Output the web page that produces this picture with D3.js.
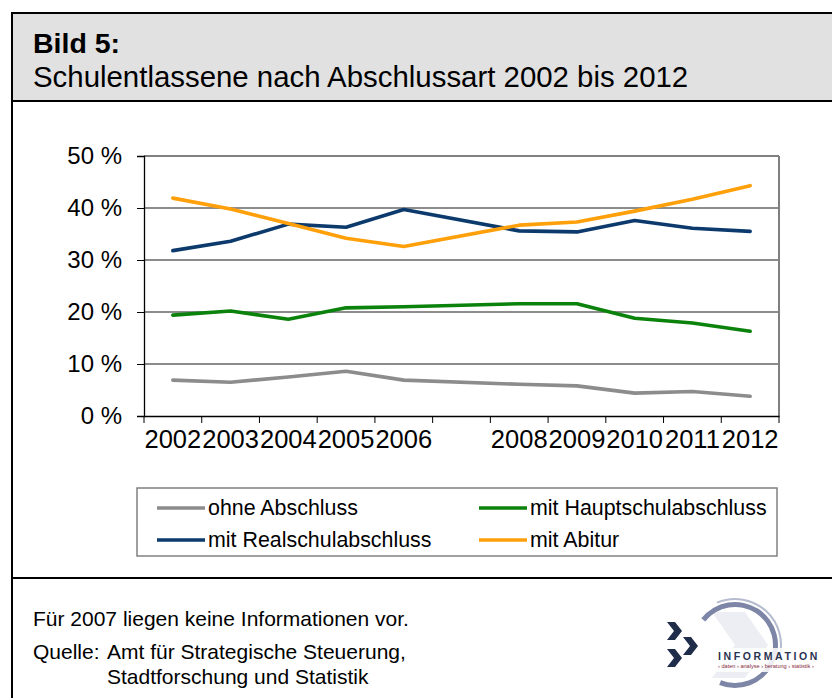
<!DOCTYPE html>
<html><head><meta charset="utf-8">
<script src="https://cdn.jsdelivr.net/npm/d3@7"></script>
<style>body{margin:0;background:#fff}svg{display:block;font-family:"Liberation Sans",Arial,sans-serif}</style>
</head><body>
<svg id="c" width="832" height="698"></svg>
<script>
const years = ["2002","2003","2004","2005","2006","2007","2008","2009","2010","2011","2012"];
const tickLabels = ["2002","2003","2004","2005","2006","","2008","2009","2010","2011","2012"];
const yTicks = [0,10,20,30,40,50];
const seriesNames = ["ohne Abschluss","mit Hauptschulabschluss","mit Realschulabschluss","mit Abitur"];
const seriesColors = ["#8c8c8c","#0b820b","#0c3a6c","#ffa00a"];
const ohneAbschluss = [6.9,6.5,7.5,8.6,6.9,null,6.1,5.8,4.4,4.7,3.8];
const hauptschul = [19.4,20.2,18.6,20.8,21.0,null,21.6,21.6,18.8,17.9,16.3];
const realschul = [31.8,33.6,36.9,36.3,39.7,null,35.6,35.4,37.6,36.1,35.5];
const abitur = [41.9,39.8,37.0,34.2,32.6,null,36.7,37.3,39.4,41.7,44.3];
const seriesValues = [ohneAbschluss,hauptschul,realschul,abitur];

const svg = d3.select("#c");

// frame
svg.append("rect").attr("x",12).attr("y",13).attr("width",830).attr("height",88).attr("fill","#e1e1e1");
svg.append("rect").attr("x",12).attr("y",13).attr("width",830).attr("height",700).attr("fill","none").attr("stroke","#000").attr("stroke-width",2);
svg.append("line").attr("x1",12).attr("x2",832).attr("y1",101).attr("y2",101).attr("stroke","#000").attr("stroke-width",2);
svg.append("line").attr("x1",12).attr("x2",832).attr("y1",578).attr("y2",578).attr("stroke","#000").attr("stroke-width",2);

svg.append("text").attr("x",33).attr("y",53).attr("font-size",28.5).attr("font-weight","bold").text("Bild 5:");
svg.append("text").attr("x",33).attr("y",87).attr("font-size",29.4).text("Schulentlassene nach Abschlussart 2002 bis 2012");

// chart
const L=144, R=779, T=156, B=416;
const x = d3.scaleBand().domain(years).range([L,R]).padding(0);
const y = d3.scaleLinear().domain([0,50]).range([B,T]);

const g = svg.append("g");
// gridlines
g.selectAll(".grid").data(yTicks.filter(d=>d>0 && d<50)).join("line")
  .attr("x1",L).attr("x2",R).attr("y1",d=>y(d)).attr("y2",d=>y(d)).attr("stroke","#1a1a1a").attr("stroke-width",1);
// plot border top/right
g.append("line").attr("x1",L).attr("x2",R).attr("y1",y(50)).attr("y2",y(50)).attr("stroke","#808080").attr("stroke-width",2);
g.append("line").attr("x1",R).attr("x2",R).attr("y1",y(50)).attr("y2",B).attr("stroke","#808080").attr("stroke-width",2);

// y axis
const yAxis = d3.axisLeft(y).tickValues(yTicks).tickSize(7).tickPadding(15).tickFormat(d=>d+" %");
const ya = g.append("g").attr("transform",`translate(${L},0)`).call(yAxis);
ya.select(".domain").attr("stroke","#000").attr("stroke-width",1.3);
ya.selectAll("text").attr("font-size",24).attr("font-family","Liberation Sans, Arial, sans-serif").attr("fill","#000");

// x axis
const xa = g.append("g").attr("transform",`translate(0,${B})`)
  .call(d3.axisBottom(x).tickSize(0).tickPadding(14).tickFormat((d,i)=>tickLabels[i]));
xa.select(".domain").attr("stroke","#000").attr("stroke-width",1.3);
xa.selectAll("text").attr("font-size",25.5).attr("font-family","Liberation Sans, Arial, sans-serif").attr("fill","#000");
const bounds = years.map(d=>x(d)).concat([R]);
xa.selectAll(".bt").data(bounds).join("line").attr("x1",d=>d).attr("x2",d=>d).attr("y1",0).attr("y2",7).attr("stroke","#000");

// lines
const line = d3.line().defined(d=>d.v!=null).x(d=>x(d.year)+x.bandwidth()/2).y(d=>y(d.v));
seriesValues.forEach((vals,i)=>{
  const pts = years.map((yr,j)=>({year:yr,v:vals[j]})).filter(d=>d.v!=null);
  g.append("path").datum(pts).attr("d",line).attr("fill","none")
    .attr("stroke",seriesColors[i]).attr("stroke-width",3.6).attr("stroke-linejoin","round").attr("stroke-linecap","round");
});

// legend
svg.append("rect").attr("x",137).attr("y",488).attr("width",640).attr("height",68).attr("fill","#fff").attr("stroke","#808080").attr("stroke-width",1.5);
const legPos = [[157,508],[479,508],[157,540],[479,540]];
seriesNames.forEach((n,i)=>{
  const [lx,ly]=legPos[i];
  svg.append("line").attr("x1",lx).attr("x2",lx+48).attr("y1",ly).attr("y2",ly).attr("stroke",seriesColors[i]).attr("stroke-width",3.6);
  svg.append("text").attr("x",lx+51).attr("y",ly).attr("dy","0.35em").attr("font-size",21.4).text(n);
});

// footer
svg.append("text").attr("x",33).attr("y",626).attr("font-size",21).text("Für 2007 liegen keine Informationen vor.");
svg.append("text").attr("x",33).attr("y",659).attr("font-size",21).text("Quelle:");
svg.append("text").attr("x",107).attr("y",659).attr("font-size",21).text("Amt für Strategische Steuerung,");
svg.append("text").attr("x",107).attr("y",684).attr("font-size",21).text("Stadtforschung und Statistik");

// logo
const lg = svg.append("g");
const cx=735, cy=645;
lg.append("path").attr("d","M712,612 L745,612 L768,645 L745,678 L712,678 L735,645 Z").attr("fill","#eceef3");
const arc = d3.arc();
lg.append("path").attr("transform",`translate(${cx},${cy})`)
  .attr("d",arc({innerRadius:38,outerRadius:43,startAngle:-0.9,endAngle:Math.PI*1.12})).attr("fill","#7d86a6");
lg.append("path").attr("transform",`translate(${cx},${cy})`)
  .attr("d",arc({innerRadius:45,outerRadius:47,startAngle:-0.4,endAngle:Math.PI*0.6})).attr("fill","#b6bccf");
const chev = (px,py)=>`M${px},${py} l8,0 l7,9 l-7,9 l-8,0 l7,-9 Z`;
[[667,622],[683,637],[667,649]].forEach(([px,py])=>lg.append("path").attr("d",chev(px,py)).attr("fill","#1f2d4a"));
lg.append("rect").attr("x",714).attr("y",648).attr("width",118).attr("height",24).attr("fill","#fff").attr("opacity",0.85);
lg.append("text").attr("x",718).attr("y",660).attr("font-size",10.5).attr("font-weight","bold").attr("letter-spacing",2.6).attr("fill","#2a3450").text("INFORMATION");
lg.append("text").attr("x",718).attr("y",668).attr("font-size",5.6).attr("fill","#8a2a3a").text("› daten › analyse › beratung › statistik ›");
</script>
</body></html>
